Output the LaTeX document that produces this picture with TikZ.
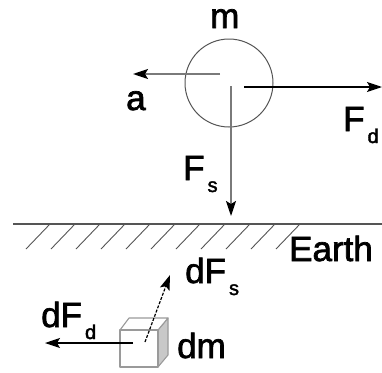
\documentclass[tikz,border=0pt]{standalone}
\usepackage{fontspec}
\setmainfont{Liberation Sans}
\newfontfamily\lblfont{Liberation Sans}[FakeBold=2]
\usepackage{tikz}
\usetikzlibrary{arrows.meta,positioning,calc}
\definecolor{EdgeGray}{HTML}{555555}
\definecolor{LineGray}{HTML}{7A7A7A}
\definecolor{BoxGray}{HTML}{9A9A9A}
\definecolor{SideGray}{HTML}{C8C8C8}
\tikzset{
  lbl/.style={inner sep=0pt,anchor=base west,font=\lblfont\fontsize{35}{35}\selectfont},
  arr/.style={-{Stealth[length=15pt,width=10pt,inset=3pt,color=black]},line width=1.4pt},
  arrG/.style={arr,draw=LineGray,line width=1.8pt},
  ballS/.style={circle,draw=EdgeGray,line width=1pt,minimum size=88pt,inner sep=0pt},
  hatch/.style={draw=EdgeGray,line width=0.9pt},
  boxS/.style={draw=BoxGray,line width=1.1pt,line join=round}
}
\newcommand{\sbs}[1]{\hspace{3pt}\raisebox{-12pt}{\fontsize{20}{20}\selectfont #1}}

\begin{document}
\begin{tikzpicture}[x=1pt,y=-1pt]
  \useasboundingbox (0,0) rectangle (382,372);
  % ball and its forces
  \node[ballS] (ball) at (229,83) {};
  \node[lbl] (lblm) at (210,28) {m};
  \coordinate (aS) at (220,74);
  \coordinate (aE) at (133,74);
  \draw[arrG] (aS) -- (aE);
  \node[lbl] (lbla) at (126,110) {a};
  \coordinate (FdS) at (244,87);
  \coordinate (FdE) at (382,87);
  \draw[arr] (FdS) -- (FdE);
  \node[lbl] (lblFd) at (343,131) {F\sbs{d}};
  \coordinate (FsS) at (231,86);
  \coordinate (FsE) at (231,216);
  \draw[arrG] (FsS) -- (FsE);
  \node[lbl] (lblFs) at (183,180) {F\sbs{s}};
  % earth surface
  \coordinate (gL) at (13,224);
  \coordinate (gR) at (382,224);
  \draw[hatch,line width=1.3pt] (gL) -- (gR);
  \foreach \x in {50,75,...,300}
    \draw[hatch] (\x,224) -- ++(-24,25);
  \node[lbl] (lblEarth) at (289,261) {Earth};
  % mass element
  \filldraw[boxS,fill=SideGray] (158,330) -- (168,318) -- (168,355) -- (158,367) -- cycle;
  \filldraw[boxS,fill=white] (120,330) -- (129,318) -- (168,318) -- (158,330) -- cycle;
  \filldraw[boxS,fill=white] (120,330) rectangle (158,367);
  \coordinate (dFdS) at (133,343);
  \coordinate (dFdE) at (45,343);
  \draw[arr,line width=1.2pt] (dFdS) -- (dFdE);
  \node[lbl] (lbldFd) at (41,327) {dF\sbs{d}};
  \coordinate (dFsS) at (145,342);
  \coordinate (dFsE) at (170,275);
  \draw[arr,line width=1.2pt,dash pattern=on 3pt off 1.5pt] (dFsS) -- (dFsE);
  \node[lbl] (lbldFs) at (185,283) {dF\sbs{s}};
  \node[lbl] (lbldm) at (177,358) {dm};
\end{tikzpicture}
\end{document}
